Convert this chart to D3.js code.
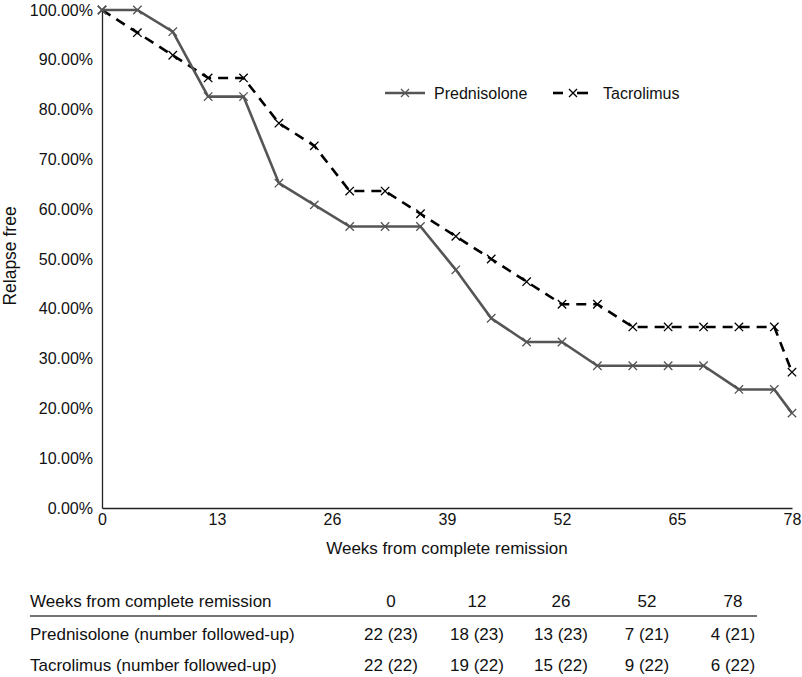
<!DOCTYPE html>
<html><head><meta charset="utf-8">
<script src="https://cdn.jsdelivr.net/npm/d3@7"></script>
<style>body{margin:0;background:#fff}svg{display:block}</style>
</head><body>
<svg id="c" width="802" height="677"></svg>
<script>
const weeks = [0,4,8,12,16,20,24,28,32,36,40,44,48,52,56,60,64,68,72,76,78];
const prednisolone = [100,100,95.65,82.61,82.61,65.22,60.87,56.52,56.52,56.52,47.83,38.1,33.33,33.33,28.57,28.57,28.57,28.57,23.81,23.81,19.05];
const tacrolimus = [100,95.45,90.91,86.36,86.36,77.27,72.73,63.64,63.64,59.09,54.55,50.0,45.45,40.91,40.91,36.36,36.36,36.36,36.36,36.36,27.27];
const xTicks = [0,13,26,39,52,65,78];
const yTicks = [0,10,20,30,40,50,60,70,80,90,100];
const tableCols = ["0","12","26","52","78"];
const tableRowLabels = ["Prednisolone (number followed-up)","Tacrolimus (number followed-up)"];
const predFollowed = ["22 (23)","18 (23)","13 (23)","7 (21)","4 (21)"];
const tacFollowed = ["22 (22)","19 (22)","15 (22)","9 (22)","6 (22)"];

const svg = d3.select("#c");
const font = "'Liberation Sans',Arial,sans-serif";
const L=102,R=792,T=10,B=508;
const x = d3.scaleLinear().domain([0,78]).range([L,R]);
const y = d3.scaleLinear().domain([0,100]).range([B,T]);

// y axis
const ya = svg.append("g").attr("transform",`translate(${L},0)`)
  .call(d3.axisLeft(y).tickValues(yTicks).tickSize(0).tickPadding(9).tickFormat(d=>d.toFixed(2)+"%"));
ya.select(".domain").attr("stroke","#222").attr("stroke-width",1.3);
ya.selectAll("text").attr("font-family",font).attr("font-size",16).attr("fill","#111");
// x axis
const xa = svg.append("g").attr("transform",`translate(0,${B})`)
  .call(d3.axisBottom(x).tickValues(xTicks).tickSize(0).tickPadding(6));
xa.select(".domain").attr("stroke","#222").attr("stroke-width",1.3);
xa.selectAll("text").attr("font-family",font).attr("font-size",16).attr("fill","#111");

svg.append("text").attr("x",447).attr("y",554).attr("text-anchor","middle")
  .attr("font-family",font).attr("font-size",17).attr("fill","#111").text("Weeks from complete remission");
svg.append("text").attr("transform","translate(16,256) rotate(-90)").attr("text-anchor","middle")
  .attr("font-family",font).attr("font-size",17.5).attr("fill","#111").text("Relapse free");

const line = d3.line().x(d=>x(d[0])).y(d=>y(d[1]));
function series(vals, color, dash){
  const data = weeks.map((w,i)=>[w,vals[i]]);
  svg.append("path").datum(data).attr("d",line).attr("fill","none")
    .attr("stroke",color).attr("stroke-width",2.6).attr("stroke-dasharray",dash||null);
  const s=4.2;
  svg.append("g").selectAll("path").data(data).join("path")
    .attr("d",d=>{const cx=x(d[0]),cy=y(d[1]);return `M${cx-s},${cy-s}L${cx+s},${cy+s}M${cx-s},${cy+s}L${cx+s},${cy-s}`;})
    .attr("stroke",color).attr("stroke-width",1.3).attr("fill","none");
}
series(tacrolimus,"#000","10,7");
series(prednisolone,"#555");

// legend
function legMarker(cx,cy,color){const s=4;svg.append("path")
  .attr("d",`M${cx-s},${cy-s}L${cx+s},${cy+s}M${cx-s},${cy+s}L${cx+s},${cy-s}`)
  .attr("stroke",color).attr("stroke-width",1.3);}
const ly=93;
svg.append("line").attr("x1",385).attr("x2",425).attr("y1",ly).attr("y2",ly).attr("stroke","#555").attr("stroke-width",2.6);
legMarker(405,ly,"#555");
svg.append("text").attr("x",434).attr("y",ly+5.5).attr("font-family",font).attr("font-size",16).attr("fill","#111").text("Prednisolone");
svg.append("line").attr("x1",553).attr("x2",563).attr("y1",ly).attr("y2",ly).attr("stroke","#000").attr("stroke-width",2.6);
svg.append("line").attr("x1",577).attr("x2",588).attr("y1",ly).attr("y2",ly).attr("stroke","#000").attr("stroke-width",2.6);
legMarker(573,ly,"#000");
svg.append("text").attr("x",603).attr("y",ly+5.5).attr("font-family",font).attr("font-size",16).attr("fill","#111").text("Tacrolimus");

// table
const colX = [391,477,561,647,733];
const tfs = 17;
svg.append("text").attr("x",30).attr("y",607).attr("font-family",font).attr("font-size",tfs).attr("fill","#111").text("Weeks from complete remission");
svg.selectAll("text.hc").data(tableCols).join("text").attr("class","hc")
  .attr("x",(d,i)=>colX[i]).attr("y",607).attr("text-anchor","middle")
  .attr("font-family",font).attr("font-size",tfs).attr("fill","#111").text(d=>d);
svg.append("line").attr("x1",30).attr("x2",757).attr("y1",616).attr("y2",616).attr("stroke","#444").attr("stroke-width",1.5);
const rows=[predFollowed,tacFollowed];
rows.forEach((r,ri)=>{
  const yy = 640+ri*31;
  svg.append("text").attr("x",30).attr("y",yy).attr("font-family",font).attr("font-size",tfs).attr("fill","#111").text(tableRowLabels[ri]);
  svg.append("g").selectAll("text").data(r).join("text")
    .attr("x",(d,i)=>colX[i]).attr("y",yy).attr("text-anchor","middle")
    .attr("font-family",font).attr("font-size",tfs).attr("fill","#111").text(d=>d);
});
</script>
</body></html>
